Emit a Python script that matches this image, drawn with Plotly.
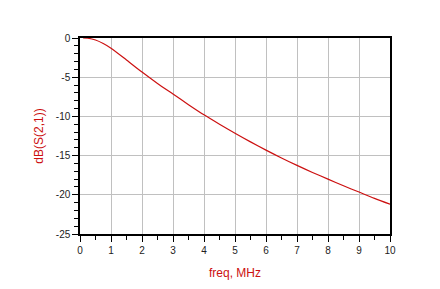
import plotly.graph_objects as go

freq = [0.1, 0.25, 0.5, 0.75, 1.0, 1.5, 2.0, 2.5, 3.0, 3.5, 4.0, 4.5, 5.0, 5.5,
        6.0, 6.5, 7.0, 7.5, 8.0, 8.5, 9.0, 9.5, 10.0]
db_s21 = [0.0, -0.03, -0.25, -0.7, -1.3, -2.8, -4.35, -5.8, -7.15, -8.5, -9.8, -11.0,
          -12.15, -13.25, -14.3, -15.3, -16.25, -17.15, -18.0, -18.85, -19.65, -20.45, -21.2]
x_ticks = [0, 1, 2, 3, 4, 5, 6, 7, 8, 9, 10]
y_ticks = [0, -5, -10, -15, -20, -25]

red = "#cc1010"
fig = go.Figure()
fig.add_trace(go.Scatter(x=freq, y=db_s21, mode="lines", line=dict(color=red, width=1.2, shape="spline", smoothing=0.8),
                         showlegend=False, hoverinfo="skip"))

fig.update_layout(
    width=440, height=289,
    margin=dict(l=80, r=50, t=38, b=55),
    paper_bgcolor="white", plot_bgcolor="white",
    font=dict(family="Liberation Sans, Arial", size=10, color="#222"),
)
fig.update_xaxes(
    range=[0, 10], tickvals=x_ticks, ticktext=[str(v) for v in x_ticks],
    showgrid=True, gridcolor="#c0c0c0", gridwidth=1,
    showline=True, linecolor="black", linewidth=1.5, mirror=True,
    ticks="outside", ticklen=6, tickcolor="black", tickwidth=1,
    minor=dict(dtick=0.5, ticks="outside", ticklen=4, tickcolor="black", showgrid=False),
    zeroline=False,
    title=dict(text="freq, MHz", font=dict(color=red, size=12), standoff=14),
)
fig.update_yaxes(
    range=[-25, 0], tickvals=y_ticks, ticktext=[str(v) for v in y_ticks],
    showgrid=True, gridcolor="#c0c0c0", gridwidth=1,
    showline=True, linecolor="black", linewidth=1.5, mirror=True,
    ticks="outside", ticklen=6, tickcolor="black", tickwidth=1,
    minor=dict(dtick=1, ticks="outside", ticklen=4, tickcolor="black", showgrid=False),
    zeroline=False,
    title=dict(text="dB(S(2,1))", font=dict(color=red, size=12), standoff=10),
)
fig.write_html("out.html")
